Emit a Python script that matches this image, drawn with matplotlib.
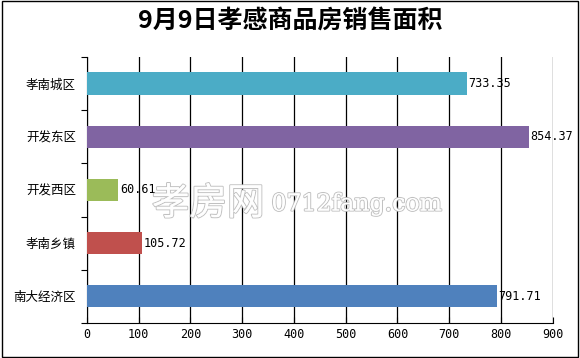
import numpy as np
import matplotlib
matplotlib.use('Agg')
import matplotlib.pyplot as plt
import matplotlib.patheffects as pe

plt.rcParams['font.family'] = ['Noto Sans CJK SC', 'DejaVu Sans']

areas = ['孝南城区', '开发东区', '开发西区', '孝南乡镇', '南大经济区']
values = [733.35, 854.37, 60.61, 105.72, 791.71]
colors = ['#4BACC6', '#8064A2', '#9BBB59', '#C0504D', '#4F81BD']
x_ticks = [0, 100, 200, 300, 400, 500, 600, 700, 800, 900]

fig = plt.figure(figsize=(5.8, 3.58), dpi=100)
ax = fig.add_axes([0.150, 0.098, 0.803, 0.743])

y = np.arange(len(areas))[::-1]
ax.barh(y, values, height=0.42, color=colors, zorder=3)
for yi, v in zip(y, values):
    ax.text(v + 3, yi, '{:.2f}'.format(v), va='center', ha='left', fontsize=8.5,
            family='DejaVu Sans Mono', zorder=4)

ax.set_xlim(0, 900)
ax.set_ylim(-0.5, len(areas) - 0.5)
ax.set_xticks(x_ticks)
ax.set_xticklabels([str(t) for t in x_ticks], family='DejaVu Sans Mono')
ax.tick_params(axis='x', direction='in', length=4, labelsize=8.5, pad=4)
ax.xaxis.grid(True, color='black', linewidth=0.9, zorder=0)

# category boundaries get the tick marks, names sit in between
ax.set_yticks(np.arange(len(areas) + 1) - 0.5)
ax.set_yticklabels([])
ax.tick_params(axis='y', which='major', direction='out', length=4)
ax.set_yticks(y, minor=True)
ax.set_yticklabels(areas, minor=True, fontsize=9)
ax.tick_params(axis='y', which='minor', length=0, pad=8)

for side in ['top', 'right']:
    ax.spines[side].set_visible(False)

fig.text(0.5, 0.94, '9月9日孝感商品房销售面积', ha='center', va='center',
         fontsize=18, fontweight='bold')

# watermark
stroke = [pe.withStroke(linewidth=1.5, foreground='#bbbbbb'), pe.Normal()]
wm1 = fig.text(0.262, 0.43, '孝房网', ha='left', va='center',
               fontsize=27, color='white', alpha=0.9, zorder=5)
wm1.set_path_effects(stroke)
wm2 = fig.text(0.468, 0.43, '0712fang.com', ha='left', va='center',
               fontsize=17, family='DejaVu Serif', color='white', alpha=0.9, zorder=5)
wm2.set_path_effects(stroke)

# figure border
fig.patches.append(plt.Rectangle((0.003, 0.004), 0.994, 0.992, transform=fig.transFigure,
                                 fill=False, edgecolor='black', linewidth=1))

plt.savefig('out.png')
